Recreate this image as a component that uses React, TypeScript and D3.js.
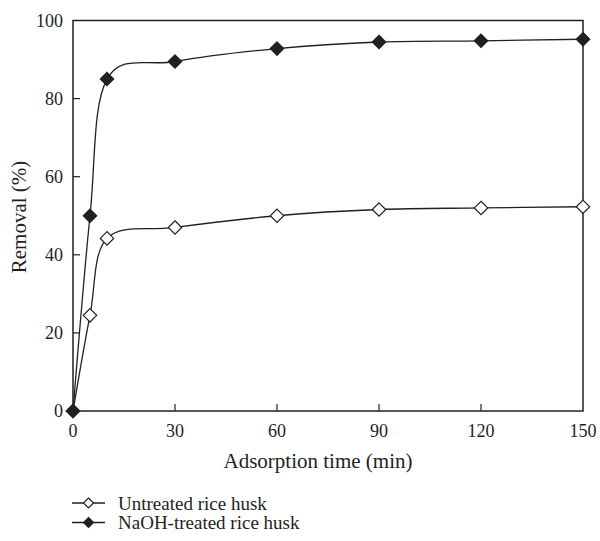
import React from "react";
import * as d3 from "d3";

const times = [0, 5, 10, 30, 60, 90, 120, 150];
const untreated = [0, 24.5, 44.2, 47, 50, 51.6, 52, 52.3];
const naohTreated = [0, 50, 85, 89.5, 92.8, 94.5, 94.8, 95.2];
const xTicks = [0, 30, 60, 90, 120, 150];
const yTicks = [0, 20, 40, 60, 80, 100];
const seriesNames = ["Untreated rice husk", "NaOH-treated rice husk"];

const W = 600, H = 541;
const L = 73, R = 583, T = 20.5, B = 411;
const font = "'Liberation Serif', 'Times New Roman', serif";
const ink = "#231f20";

function Diamond({ x, y, filled, s = 6.7 }: { x: number; y: number; filled: boolean; s?: number }) {
  const d = `M${x},${y - s}L${x + s},${y}L${x},${y + s}L${x - s},${y}Z`;
  return <path d={d} fill={filled ? ink : "#fff"} stroke={ink} strokeWidth={1.2} />;
}

export default function App() {
  const x = d3.scaleLinear().domain([0, 150]).range([L, R]);
  const y = d3.scaleLinear().domain([0, 100]).range([B, T]);
  const line = d3
    .line<number>()
    .x((_, i) => x(times[i]))
    .y((v) => y(v))
    .curve(d3.curveCardinal.tension(0));
  const series = [
    { name: seriesNames[0], values: untreated, filled: false },
    { name: seriesNames[1], values: naohTreated, filled: true },
  ];
  return (
    <svg width={W} height={H} style={{ position: "absolute", left: 0, top: 0 }} fontFamily={font}>
      <rect x={0} y={0} width={W} height={H} fill="#fff" />
      {series.map((s) => (
        <path key={s.name} d={line(s.values) || ""} fill="none" stroke={ink} strokeWidth={1.3} />
      ))}
      <rect x={L} y={T} width={R - L} height={B - T} fill="none" stroke={ink} strokeWidth={1.5} />
      {xTicks.map((t) => (
        <g key={"x" + t}>
          {t > 0 && t < 150 && <line x1={x(t)} x2={x(t)} y1={B} y2={B - 7} stroke={ink} strokeWidth={1.2} />}
          <text x={x(t)} y={437} textAnchor="middle" fontSize={18} fill={ink}>{t}</text>
        </g>
      ))}
      {yTicks.map((t) => (
        <g key={"y" + t}>
          {t > 0 && t < 100 && <line x1={L} x2={L + 7} y1={y(t)} y2={y(t)} stroke={ink} strokeWidth={1.2} />}
          <text x={63} y={y(t) + 6} textAnchor="end" fontSize={18} fill={ink}>{t}</text>
        </g>
      ))}
      {series.map((s) =>
        s.values.map((v, i) => <Diamond key={s.name + i} x={x(times[i])} y={y(v)} filled={s.filled} />)
      )}
      <text x={318} y={468} textAnchor="middle" fontSize={21} fill={ink}>Adsorption time (min)</text>
      <text transform={`translate(26,217) rotate(-90)`} textAnchor="middle" fontSize={21} fill={ink}>Removal (%)</text>
      {series.map((s, i) => {
        const ly = 503 + i * 19.5;
        return (
          <g key={"leg" + i}>
            <line x1={72} x2={105} y1={ly} y2={ly} stroke={ink} strokeWidth={1.3} />
            <Diamond x={88.5} y={ly} filled={s.filled} s={5} />
            <text x={118} y={ly + 6.5} fontSize={19} fill={ink}>{s.name}</text>
          </g>
        );
      })}
    </svg>
  );
}
